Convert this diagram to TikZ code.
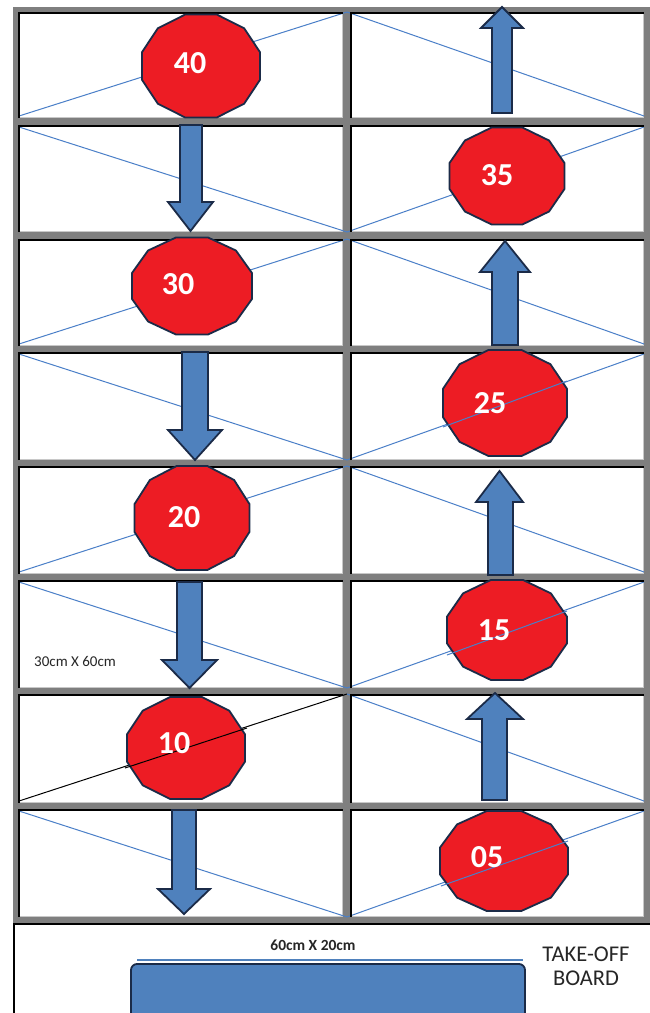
\documentclass[tikz,border=0pt]{standalone}
\usepackage{fontspec}
\setmainfont{Carlito}
\definecolor{framegray}{HTML}{7F7F7F}
\definecolor{lightgray2}{HTML}{C8C8C8}
\definecolor{diag}{HTML}{4A7FC8}
\definecolor{redfill}{HTML}{ED1C24}
\definecolor{navy}{HTML}{1B2B48}
\definecolor{arrowblue}{HTML}{4F81BD}
\definecolor{textdark}{HTML}{262626}
\tikzset{
  poly/.style={fill=redfill, draw=navy, line width=1.8pt, line join=miter},
  blk/.style={fill=arrowblue, draw=navy, line width=1.8pt, line join=miter},
  diagline/.style={draw=diag, line width=1pt},
  numlabel/.style={text=white, font=\fontsize{32}{32}\selectfont\bfseries, inner sep=0pt},
  cellwhite/.style={fill=white},
  innerblack/.style={draw=black, line width=2pt},
  shadowline/.style={draw=lightgray2, line width=1.5pt}
}
% name, cx, cy, rx, ry
\newcommand\dodec[5]{%
  \draw[poly] ({#2+#4*cos(15)},{#3+#5*sin(15)})
    \foreach \a in {45,75,...,345}{ -- ({#2+#4*cos(\a)},{#3+#5*sin(\a)})} -- cycle;
  \coordinate (#1) at (#2,#3);}
% name, sx1, sx2, hx1, hx2, base, headbase, tip
\newcommand\blockarrow[8]{%
  \draw[blk] (#2,#6) -- (#3,#6) -- (#3,#7) -- (#5,#7) -- ({(#4+#5)/2},#8)
    -- (#4,#7) -- (#2,#7) -- cycle;
  \coordinate (#1) at ({(#4+#5)/2},#8);}
\begin{document}
\begin{tikzpicture}[x=1pt,y=-1pt]
\useasboundingbox (0,0) rectangle (650,1013);
\clip (0,0) rectangle (650,1013);
\fill[white] (0,0) rectangle (650,1013);
% frame
\fill[framegray] (13,7) rectangle (650,923);
\foreach \t/\b in {12/118,125/232,239/346,352/460,466/574,580/688,694/803,809/917}{
  \fill[cellwhite] (18,\t) rectangle (343,\b);
  \fill[cellwhite] (350,\t) rectangle (644,\b);
  \draw[shadowline] (18,\b-0.75) -- (343-0.75,\b-0.75) -- (343-0.75,\t);
  \draw[shadowline] (350,\b-0.75) -- (644-0.75,\b-0.75) -- (644-0.75,\t);
}
% diagonals: odd rows ^, even rows V
\foreach \t/\b in {12/118,239/346,466/574}{
  \draw[diagline] (19,\b-2) -- (347,\t);
  \draw[diagline] (347,\t) -- (644,\b-2);
}
\draw[diagline,draw=black] (19,801) -- (347,694);
\draw[diagline] (347,694) -- (644,801);
\foreach \t/\b in {125/232,352/460,580/688,809/917}{
  \draw[diagline] (19,\t+2) -- (347,\b);
  \draw[diagline] (347,\b) -- (644,\t+2);
}
% inner black edges (top and left of each cell)
\foreach \t/\b in {12/118,125/232,239/346,352/460,466/574,580/688,694/803,809/917}{
  \draw[innerblack] (19,\b) -- (19,\t+1) -- (343,\t+1);
  \draw[innerblack] (351,\b) -- (351,\t+1) -- (644,\t+1);
}
% bottom area lines
\draw[black, line width=2pt] (13,924) -- (650,924);
\draw[black, line width=1.5pt] (14,923) -- (14,1013);

% arrows
\blockarrow{aL2}{180}{202}{168}{213}{125}{202}{231}
\blockarrow{aL4}{182}{208}{168}{222}{352}{430}{460}
\blockarrow{aL6}{177}{202}{162}{217}{582}{660}{688}
\blockarrow{aL8}{172}{196}{158}{210}{810}{889}{914}
\blockarrow{aR1}{492}{512}{481}{523}{113}{28}{7}
\blockarrow{aR3}{492}{518}{480}{530}{345}{272}{241}
\blockarrow{aR5}{488}{513}{476}{523}{575}{502}{471}
\blockarrow{aR7}{482}{507}{467}{523}{800}{719}{693}

% markers
\dodec{p40}{201}{66}{61.1}{53.3}
\dodec{p35}{507}{176}{59.5}{50.2}
\dodec{p30}{192}{286}{62.1}{50.2}
\dodec{p25}{505}{403}{64.2}{54.9}
\dodec{p20}{192}{518}{59.5}{53.8}
\dodec{p15}{507}{630}{62.1}{51.8}
\dodec{p10}{186}{748}{61.1}{52.8}
\dodec{p05}{504}{861}{66.3}{51.8}
% diagonals that pass over some markers
\draw[diagline,draw=black] (125,768) -- (247,728);
\draw[diagline] (441,886) -- (568,841);
\draw[diagline] (443,427) -- (567,381);
\draw[diagline] (447,655) -- (567,611);

\node[numlabel] (n40) at (190,63) {40};
\node[numlabel] (n35) at (497,175) {35};
\node[numlabel] (n30) at (178,284) {30};
\node[numlabel] (n25) at (490,403) {25};
\node[numlabel] (n20) at (184,517) {20};
\node[numlabel] (n15) at (494,630) {15};
\node[numlabel] (n10) at (174,743) {10};
\node[numlabel] (n05) at (487,857) {05};

\node[anchor=west, inner sep=0pt, text=textdark, font=\fontsize{15}{15}\selectfont] (cell) at (34,661) {30cm X 60cm};

% take-off board
\draw[draw=arrowblue, line width=2pt] (137,960) -- (523,960);
\draw[fill=arrowblue, draw=navy, line width=1.8pt, rounded corners=6pt] (131,964) rectangle (525,1030);
\node[font=\fontsize{15.5}{15.5}\selectfont\bfseries, text=textdark, inner sep=0pt] (dim) at (313,945) {60cm X 20cm};
\node[font=\fontsize{22.5}{24}\selectfont, text=textdark, align=center, inner sep=0pt] (board) at (586,966) {TAKE-OFF\\BOARD};
\end{tikzpicture}
\end{document}
